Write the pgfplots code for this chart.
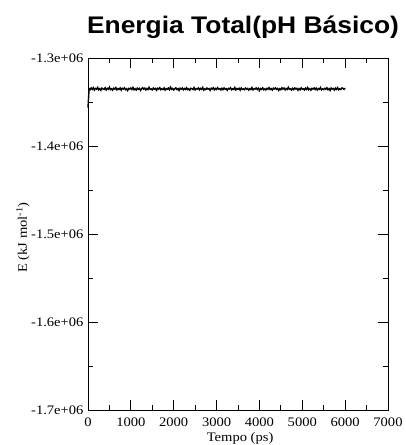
\documentclass[border=0pt]{standalone}
\usepackage{pgfplots}
\pgfplotsset{compat=1.18}
\usepackage{fontspec}
\setmainfont{Liberation Serif}[FakeStretch=1.12]
\newfontfamily\titlefont{Liberation Sans}[FakeStretch=1.1]

\begin{document}
\begin{tikzpicture}[x=1pt,y=1pt]
\useasboundingbox (0,0) rectangle (405,445);
\node[anchor=base] at (243,411) {\titlefont\bfseries\fontsize{24}{28}\selectfont Energia Total(pH Básico)};
\begin{axis}[
  at={(88pt,35pt)}, anchor=south west,
  scale only axis, width=300pt, height=352pt,
  xmin=0, xmax=7000, ymin=-1.7e6, ymax=-1.3e6,
  xtick={0,1000,2000,3000,4000,5000,6000,7000},
  xticklabels={0,1000,2000,3000,4000,5000,6000,7000},
  ytick={-1.7e6,-1.6e6,-1.5e6,-1.4e6,-1.3e6},
  yticklabels={-1.7e+06,-1.6e+06,-1.5e+06,-1.4e+06,-1.3e+06},
  minor x tick num=1, minor y tick num=1,
  tick align=inside,
  major tick length=10pt, minor tick length=5pt,
  axis line style={line width=0.8pt},
  every tick/.style={black, line width=0.8pt},
  tick label style={font=\fontsize{13}{15}\selectfont},
  xticklabel style={anchor=base, yshift=-16pt},
  yticklabel style={anchor=east, xshift=-1pt},
  /pgf/number format/assume math mode=true,
  scaled ticks=false,
  xlabel={Tempo (ps)},
  xlabel style={at={(axis description cs:0.507,-0.0909)}, anchor=base, font=\fontsize{13}{15}\selectfont},
  ylabel={E (kJ mol\textsuperscript{-1})},
  ylabel style={at={(axis description cs:-0.2167,0.49)}, anchor=center, font=\fontsize{13}{15}\selectfont},
  clip=false,
]
% total energy trace over the 6 ns run
\addplot[black, line width=1.4pt, mark=none] coordinates {
(0,-1356500)
(25,-1334900) (50,-1336000) (75,-1334000) (100,-1335600) (125,-1333700) (150,-1336400) (175,-1334600) (200,-1335400) (225,-1333400) (250,-1336100)
(275,-1334800) (300,-1336700) (325,-1334200) (350,-1335100) (375,-1335800) (400,-1333800) (425,-1336300) (450,-1334500) (475,-1335500) (500,-1333200)
(525,-1335900) (550,-1335000) (575,-1336500) (600,-1334300) (625,-1335300) (650,-1333600) (675,-1336200) (700,-1334700) (725,-1335700) (750,-1334100)
(775,-1336600) (800,-1334400) (825,-1335200) (850,-1333900) (875,-1336000) (900,-1334900) (925,-1337000) (950,-1334600) (975,-1335400) (1000,-1334000)
(1025,-1335800) (1050,-1333500) (1075,-1336100) (1100,-1334800) (1125,-1336400) (1150,-1334200) (1175,-1335600) (1200,-1334500) (1225,-1336800) (1250,-1335000)
(1275,-1333800) (1300,-1335500) (1325,-1334300) (1350,-1336300) (1375,-1334700) (1400,-1335900) (1425,-1333300) (1450,-1335700) (1475,-1335100) (1500,-1336200)
(1525,-1334100) (1550,-1335400) (1575,-1334600) (1600,-1336700) (1625,-1334400) (1650,-1335300) (1675,-1333700) (1700,-1336000) (1725,-1334900) (1750,-1335800)
(1775,-1334000) (1800,-1336500) (1825,-1334800) (1850,-1335500) (1875,-1334200) (1900,-1336100) (1925,-1333100) (1950,-1335600) (1975,-1334500) (2000,-1336400)
(2025,-1335000) (2050,-1333900) (2075,-1335900) (2100,-1334700) (2125,-1336900) (2150,-1334300) (2175,-1335400) (2200,-1334100) (2225,-1336200) (2250,-1334600)
(2275,-1335700) (2300,-1333800) (2325,-1336000) (2350,-1335100) (2375,-1336600) (2400,-1334400) (2425,-1334900) (2450,-1335800) (2475,-1333600) (2500,-1336300)
(2525,-1334800) (2550,-1335300) (2575,-1334000) (2600,-1336100) (2625,-1334500) (2650,-1335600) (2675,-1333400) (2700,-1336500) (2725,-1335000) (2750,-1335900)
(2775,-1334200) (2800,-1335500) (2825,-1334700) (2850,-1336800) (2875,-1334300) (2900,-1335300) (2925,-1333900) (2950,-1336200) (2975,-1334600) (3000,-1335700)
(3025,-1333700) (3050,-1335400) (3075,-1334900) (3100,-1336400) (3125,-1334400) (3150,-1336000) (3175,-1334100) (3200,-1335600) (3225,-1334800) (3250,-1336700)
(3275,-1334500) (3300,-1335200) (3325,-1333800) (3350,-1336100) (3375,-1335000) (3400,-1335800) (3425,-1333500) (3450,-1336300) (3475,-1334700) (3500,-1335500)
(3525,-1334300) (3550,-1336600) (3575,-1334000) (3600,-1335700) (3625,-1335100) (3650,-1336000) (3675,-1334200) (3700,-1335400) (3725,-1334600) (3750,-1336500)
(3775,-1334800) (3800,-1335900) (3825,-1333600) (3850,-1336200) (3875,-1334900) (3900,-1335300) (3925,-1334100) (3950,-1335800) (3975,-1334400) (4000,-1337000)
(4025,-1334700) (4050,-1335600) (4075,-1333900) (4100,-1336100) (4125,-1335000) (4150,-1336300) (4175,-1334500) (4200,-1335500) (4225,-1333700) (4250,-1335900)
(4275,-1334800) (4300,-1336400) (4325,-1334300) (4350,-1335200) (4375,-1334000) (4400,-1335700) (4425,-1334600) (4450,-1336800) (4475,-1334900) (4500,-1336000)
(4525,-1333800) (4550,-1335400) (4575,-1334200) (4600,-1336200) (4625,-1334700) (4650,-1335800) (4675,-1333300) (4700,-1335600) (4725,-1335100) (4750,-1336500)
(4775,-1334400) (4800,-1335900) (4825,-1334100) (4850,-1335300) (4875,-1334500) (4900,-1336700) (4925,-1334800) (4950,-1336100) (4975,-1333900) (5000,-1335500)
(5025,-1335000) (5050,-1336300) (5075,-1334300) (5100,-1335700) (5125,-1333600) (5150,-1336000) (5175,-1334900) (5200,-1336600) (5225,-1334600) (5250,-1335400)
(5275,-1334000) (5300,-1335800) (5325,-1334200) (5350,-1336400) (5375,-1334700) (5400,-1335600) (5425,-1333500) (5450,-1336200) (5475,-1335100) (5500,-1335900)
(5525,-1334400) (5550,-1335500) (5575,-1333800) (5600,-1336100) (5625,-1334800) (5650,-1336800) (5675,-1334100) (5700,-1335300) (5725,-1334600) (5750,-1336500)
(5775,-1334300) (5800,-1335700) (5825,-1333700) (5850,-1336000) (5875,-1335000) (5900,-1335800) (5925,-1334000) (5950,-1334400) (5975,-1335600) (6000,-1334200)
};
\end{axis}
\end{tikzpicture}
\end{document}
